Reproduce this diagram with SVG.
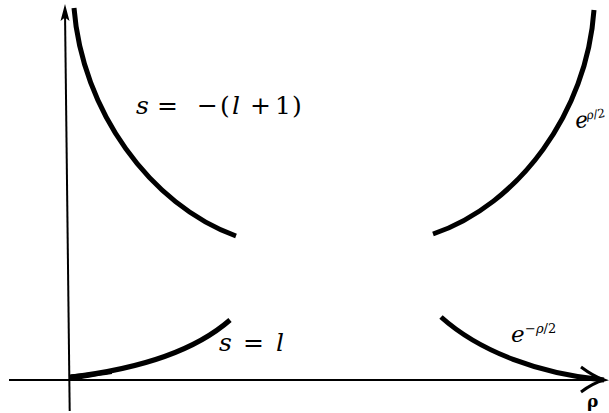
<svg xmlns="http://www.w3.org/2000/svg" width="609" height="413" viewBox="0 0 609 413">
<style>
.ax{stroke:#000;stroke-width:2;fill:none}
.cv{stroke:#000;stroke-width:5;fill:none;stroke-linecap:butt}
text{font-family:'DejaVu Serif','Liberation Serif',serif;fill:#000}
.i{font-style:italic}
</style>
<rect width="609" height="413" fill="#fff"/>
<g id="axes">
<path class="ax" d="M65,12 L69.7,411"/>
<polygon points="65,4 60.5,21 65,17.5 69.5,21" fill="#000"/>
<path class="ax" d="M9,380 L600,380"/>
<path d="M581,367 Q593,376 604,380 Q593,383 581,392" stroke="#000" stroke-width="3" fill="none"/>
</g>
<g id="curves">
<path id="c1" class="cv" d="M74,8 C82,110 150,205 236,236"/>
<path id="c2" class="cv" d="M433,234 C519,205 587,112 594,10"/>
<path id="c3" class="cv" d="M71,377 C130,370 190,355 230,320"/>
<path d="M70,381 L70,374.5 C85,373 100,371.5 112,370 L112,374 C95,376.5 82,379 70,381 Z" fill="#000"/>
<path id="c4" class="cv" d="M441,317 C480,352 540,374 604,380"/>
</g>
<g id="labels">
<text font-size="25" y="114"><tspan class="i" x="136">s</tspan><tspan x="157">=</tspan><tspan x="197">−</tspan><tspan x="220">(</tspan><tspan class="i" x="232">l</tspan><tspan x="250">+</tspan><tspan x="275">1</tspan><tspan x="292">)</tspan></text>
<text font-size="25" y="351"><tspan class="i" x="219">s</tspan><tspan x="243">=</tspan><tspan class="i" x="276">l</tspan></text>
<text y="342"><tspan class="i" font-size="23" x="511">e</tspan><tspan font-size="13" x="525" y="333">−</tspan><tspan class="i" font-size="13" y="333">ρ</tspan><tspan font-size="13" y="333">/2</tspan></text>
<text transform="rotate(-8 577 128)" y="128"><tspan class="i" font-size="22" x="576">e</tspan><tspan class="i" font-size="12" x="588" y="121">ρ</tspan><tspan font-size="12" y="121">/2</tspan></text>
<text font-size="17" font-weight="bold" x="587" y="407">ρ</text>
</g>
</svg>
